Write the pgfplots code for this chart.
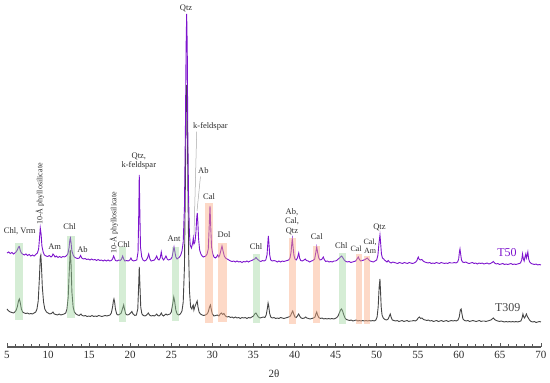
\documentclass[border=0pt]{standalone}
\usepackage{pgfplots}
\pgfplotsset{compat=1.18}
\usepackage{fontspec}
\setmainfont{Liberation Serif}
\definecolor{pur}{RGB}{125,20,205}
\definecolor{gry}{RGB}{70,70,70}
\definecolor{bandg}{RGB}{150,210,150}
\definecolor{bando}{RGB}{250,170,130}
\definecolor{txt}{RGB}{45,45,45}
\tikzset{lbl/.style={font=\fontsize{8.5}{9.5}\selectfont, text=txt, inner sep=0pt, align=center}}
\begin{document}
\begin{tikzpicture}
\path[use as bounding box] (-7pt,-36pt) rectangle (543pt,347pt);
\begin{axis}[
  at={(0,0)}, anchor=south west,
  width=534pt, height=347pt, scale only axis,
  xmin=5, xmax=70, ymin=0, ymax=347,
  axis x line*=bottom, axis y line=none,
  x axis line style={draw=gry!90, line width=1.1pt},
  xtick={5,10,...,70}, minor x tick num=4,
  tick align=inside,
  major tick length=4pt, minor tick length=2.5pt,
  tick style={draw=gry!90, line width=0.8pt},
  ytick=\empty,
  xticklabel style={font=\fontsize{11}{12}\selectfont, text=txt, yshift=-1pt},
  /pgf/number format/assume math mode=true,
  xlabel={2θ},
  xlabel style={font=\fontsize{11}{12}\selectfont, text=txt, at={(axis description cs:0.5,0)}, anchor=center, yshift=-27pt},
  clip=false,
]
% T309
\addplot[gry, line width=0.9pt] table {
x y
5.0 38
5.2 36
5.4 35
5.6 34.5
5.8 34
5.95 35
6.1 36.5
6.25 40
6.4 46
6.5 48
6.6 45
6.75 38
6.9 35
7.1 34
7.3 33.5
7.5 34
7.7 33
7.9 33.5
8.1 33
8.3 34
8.5 35
8.65 38
8.8 46
8.95 70
9.05 90
9.12 92
9.2 80
9.3 60
9.45 45
9.6 38
9.8 35
10.0 34
10.2 33
10.4 33.5
10.6 35
10.75 33
10.95 32.5
11.15 32
11.35 33
11.55 32
11.75 32.5
11.95 33
12.15 34
12.3 38
12.45 50
12.6 80
12.7 97
12.8 82
12.9 55
13.05 40
13.2 35
13.4 33
13.6 32
13.8 31.5
14.0 33
14.15 31.5
14.35 31
14.55 31.5
14.75 30.5
14.95 31
15.15 30.5
15.35 31.5
15.55 30.5
15.75 31
15.95 30.5
16.15 31.5
16.35 31
16.55 30.5
16.75 31
16.95 31.5
17.15 31
17.35 31.5
17.55 32
17.7 34
17.85 40
17.95 46
18.02 48
18.1 45
18.2 38
18.35 33
18.5 32
18.7 32.5
18.9 34
19.05 38
19.2 42
19.3 38
19.45 33
19.65 32
19.85 32.5
20.05 34
20.2 35.5
20.35 33
20.55 31.5
20.75 32
20.92 38
21.02 60
21.1 80
21.18 62
21.28 40
21.42 33
21.6 31.5
21.8 31
22.0 32
22.2 34
22.35 32
22.55 31
22.75 31.5
22.95 31
23.1 32
23.22 33
23.35 31.5
23.5 31
23.65 32
23.78 34
23.9 32
24.05 31
24.2 32
24.35 33
24.5 32
24.65 32.5
24.85 33
25.0 35
25.15 42
25.3 50
25.4 46
25.55 37
25.7 33
25.9 32
26.1 33
26.3 36
26.45 45
26.6 80
26.72 170
26.8 240
26.87 262
26.94 235
27.02 160
27.12 90
27.22 55
27.35 40
27.5 38
27.6 41
27.67 42
27.75 37
27.85 40
28.0 43
28.15 46
28.25 40
28.38 35
28.55 33
28.75 32
28.95 31.5
29.15 32
29.35 33
29.5 35
29.65 40
29.77 42
29.88 37
30.0 33
30.2 31
30.4 31.5
30.6 32
30.8 31
30.95 33
31.1 34
31.25 32.5
31.4 33.5
31.6 31
31.8 30
32.0 30.5
32.2 29.5
32.4 30
32.6 29
32.8 30
33.0 29
33.2 29.5
33.4 28.5
33.6 29.5
33.8 29
34.0 29.5
34.2 28.5
34.4 29.5
34.6 29
34.8 30
35.0 31
35.15 33
35.3 34
35.45 32
35.6 30
35.8 29
36.0 29.5
36.2 30
36.4 29.5
36.55 32
36.68 38
36.78 44
36.86 41
36.96 34
37.1 30
37.3 29
37.5 29.5
37.7 28.5
37.9 29
38.1 28.5
38.3 29.5
38.5 29
38.7 28.5
38.9 29
39.1 29.5
39.3 30
39.5 31
39.65 34
39.78 36
39.9 33
40.05 30
40.2 29.5
40.35 31
40.5 33
40.62 31
40.8 29
41.0 28.5
41.2 29
41.35 30
41.5 29
41.7 28.5
41.9 28
42.1 28.5
42.3 29
42.5 30
42.6 33
42.7 35
42.8 32
42.95 29.5
43.15 28.5
43.35 29
43.55 28
43.75 28.5
43.95 28
44.15 28.5
44.35 28
44.55 28.5
44.75 28
44.95 28.5
45.15 29.5
45.3 31
45.45 34
45.6 37
45.72 38
45.85 36
46.0 32
46.15 29
46.3 27.5
46.5 27
46.7 26.5
46.9 27
47.1 26
47.3 26.5
47.5 27
47.7 26
47.9 26.5
48.1 26
48.3 26.5
48.5 26
48.7 26.5
48.9 26
49.1 26.5
49.3 26
49.5 26.5
49.7 26
49.9 27
50.05 30
50.18 40
50.3 60
50.4 68
50.47 55
50.55 40
50.65 32
50.8 29
51.0 27.5
51.2 27
51.4 28
51.55 31
51.65 33
51.75 30
51.9 27
52.1 26.5
52.3 26
52.5 26.5
52.7 25.5
52.9 26
53.1 26.5
53.3 25.5
53.5 26
53.7 26.5
53.9 25.5
54.1 26
54.3 26
54.5 26.5
54.7 26
54.9 27
55.05 29
55.2 30
55.35 28.5
55.5 29
55.7 27.5
55.9 27
56.1 26.5
56.3 27
56.5 26
56.7 26.5
56.9 25.5
57.1 26
57.3 26.5
57.5 25.5
57.7 26
57.9 26.5
58.1 25.5
58.3 26
58.5 26.5
58.7 25.5
58.9 26
59.1 26.5
59.3 26
59.5 26.5
59.7 26
59.9 27
60.05 30
60.18 37
60.28 38
60.38 33
60.5 28
60.7 26.5
60.9 26
61.1 26.5
61.3 25.5
61.5 26
61.7 26.5
61.9 26
62.1 25.5
62.3 26
62.5 26.5
62.7 25.5
62.9 26
63.1 26
63.3 25.5
63.5 26
63.7 26.5
63.9 27
64.05 28
64.2 29
64.35 27.5
64.55 26.5
64.75 26
64.95 25.5
65.15 26
65.35 25.5
65.55 25
65.75 25.5
65.95 25
66.15 25.5
66.35 25
66.55 25.5
66.75 25
66.95 25.5
67.15 25
67.35 25.5
67.55 26
67.7 29
67.8 33
67.9 30
68.0 29
68.12 31
68.22 33
68.32 31
68.45 29
68.6 27
68.8 25.5
69.0 25
69.2 25.5
69.4 24.5
69.6 25
69.8 25.5
70.0 25
};
% T50
\addplot[pur, line width=0.9pt] table {
x y
5.0 94
5.2 95
5.4 93.5
5.6 94.5
5.8 93
5.95 94
6.1 95
6.25 97
6.4 100
6.5 100.5
6.6 97
6.75 94
6.9 93
7.1 92
7.3 93
7.5 91.5
7.7 92.5
7.9 91
8.1 92
8.3 91
8.5 92.5
8.7 94
8.85 98
8.95 108
9.05 119
9.15 113
9.25 101
9.4 95
9.55 92
9.75 91
9.95 90.5
10.15 91.5
10.35 90
10.5 91
10.6 93
10.7 92
10.85 90
11.0 91
11.2 89.5
11.4 90.5
11.6 89.5
11.8 90.5
12.0 90
12.2 91
12.4 93
12.55 99
12.65 107
12.72 109
12.8 104
12.9 96
13.05 92
13.2 90
13.4 89
13.6 88.5
13.8 89
13.95 91.5
14.1 89
14.3 88
14.5 88.5
14.7 87.5
14.9 88
15.1 87
15.3 88
15.5 87
15.7 87.5
15.9 86.5
16.1 87.5
16.3 86.5
16.5 87
16.7 86
16.9 87
17.1 86
17.3 87
17.5 86
17.7 86.5
17.85 88
17.98 91
18.08 89
18.2 86.5
18.4 86
18.6 87
18.8 86.5
18.95 88
19.08 91
19.2 88
19.35 86
19.55 86.5
19.75 86
19.95 87
20.09 89
20.2 87
20.4 86
20.6 86.5
20.8 87
20.95 95
21.03 130
21.1 172
21.17 135
21.25 100
21.4 90
21.55 87
21.75 86
21.95 87
22.1 89
22.25 93
22.4 88
22.55 86
22.75 86.5
22.95 87
23.1 89
23.22 91
23.35 88
23.5 87
23.65 89
23.78 95
23.9 89
24.05 87
24.2 88.5
24.35 91
24.5 88
24.65 87
24.8 87.5
24.95 88
25.1 90
25.25 97
25.33 100
25.42 96
25.55 90
25.7 88
25.85 89
26.0 90
26.15 92
26.3 96
26.45 105
26.6 140
26.72 220
26.8 300
26.87 333
26.94 300
27.0 220
27.1 150
27.2 115
27.3 102
27.45 99
27.6 104
27.68 109
27.76 103
27.88 105
28.0 115
28.1 130
28.16 134
28.23 125
28.32 108
28.45 97
28.6 93
28.75 91
28.9 90
29.05 90.5
29.2 91
29.35 93
29.5 98
29.6 118
29.71 141
29.8 120
29.9 100
30.05 93
30.2 90
30.35 89
30.5 90
30.65 92
30.78 90
30.9 92
31.05 97
31.17 101
31.3 96
31.45 91
31.6 89
31.8 88
32.0 87
32.2 86
32.4 85.5
32.6 86
32.8 85
33.0 86
33.2 85
33.4 85.5
33.6 84.5
33.8 85.5
34.0 85
34.2 86
34.4 85
34.6 86
34.8 86.5
35.0 87.5
35.15 88
35.31 89.5
35.45 88
35.6 87
35.75 86
35.9 85.5
36.1 86.5
36.3 86
36.5 87
36.65 92
36.75 104
36.81 111
36.88 104
36.98 92
37.1 87
37.3 86
37.5 86.5
37.7 86
37.9 85
38.1 86
38.3 85
38.5 86
38.7 85.5
38.9 86
39.1 86.5
39.3 87
39.45 89
39.58 95
39.67 104
39.73 108
39.8 102
39.92 92
40.05 88
40.2 87
40.35 89
40.51 94
40.62 89
40.75 86.5
40.95 86
41.15 87
41.3 88
41.45 86.5
41.65 86
41.85 85
42.05 86
42.25 86.5
42.45 88
42.6 95
42.7 100
42.8 95
42.95 89
43.1 87
43.3 87.5
43.5 90
43.65 87
43.8 85.5
44.0 86
44.2 85
44.4 85.5
44.6 85
44.8 86
45.0 86
45.2 87
45.4 88.5
45.6 90
45.74 91
45.9 89
46.05 87
46.25 85.5
46.45 85
46.65 85.5
46.85 84.5
47.05 85
47.25 85.5
47.45 86
47.6 88
47.76 90
47.9 87.5
48.05 86
48.25 86.5
48.45 87
48.6 87.5
48.75 88.5
48.86 89
49.0 87.5
49.2 86
49.4 85.5
49.6 85
49.8 86
50.0 87
50.15 92
50.28 104
50.4 112
50.48 104
50.58 93
50.7 89
50.85 88
50.95 87
51.1 86
51.25 85
51.41 86.5
51.55 85
51.75 84
51.95 85
52.15 84.5
52.35 84
52.55 83.5
52.75 84.5
52.95 84
53.15 83.5
53.35 84.5
53.55 84
53.75 83.5
53.95 84.5
54.15 84
54.35 83.5
54.55 84
54.75 85
54.9 86.5
55.0 89
55.07 90
55.15 88
55.3 87
55.5 87.5
55.65 86
55.85 85
56.05 84.5
56.25 84
56.45 84.5
56.65 83.5
56.85 84
57.05 83.5
57.25 84.5
57.45 84
57.65 83.5
57.85 84.5
58.05 84
58.25 83.5
58.45 84
58.65 83.5
58.85 84.5
59.05 84
59.25 84
59.45 84.5
59.65 84
59.85 85
59.98 88
60.07 95
60.14 98
60.22 93
60.32 87
60.45 85
60.65 84.5
60.85 85
61.05 84
61.25 83.5
61.45 84
61.65 84.5
61.85 83.5
62.05 84
62.25 83
62.45 84
62.65 83.5
62.85 84
63.05 83
63.25 83.5
63.45 84
63.65 83
63.85 83.5
64.05 84.5
64.2 85.5
64.35 84
64.55 83
64.75 83.5
64.95 82.5
65.15 83
65.35 83.5
65.55 82.5
65.75 83
65.95 82.5
66.15 83
66.35 83.5
66.55 82.5
66.75 83
66.95 82.5
67.15 83
67.35 83.5
67.5 84
67.65 87
67.75 93
67.85 88
67.95 86
68.05 90
68.15 93
68.22 89
68.3 91
68.4 95
68.5 88
68.62 85
68.8 83.5
69.0 83
69.2 82.5
69.4 83
69.6 82
69.8 82.5
70.0 82
};
% bands
\addplot[draw=none, fill=bandg, fill opacity=0.4] coordinates {(5.97,27)(6.91,27)(6.91,104)(5.97,104)} -- cycle;
\addplot[draw=none, fill=bandg, fill opacity=0.4] coordinates {(12.27,29)(13.28,29)(13.28,111)(12.27,111)} -- cycle;
\addplot[draw=none, fill=bandg, fill opacity=0.4] coordinates {(18.67,25)(19.49,25)(19.49,100)(18.67,100)} -- cycle;
\addplot[draw=none, fill=bandg, fill opacity=0.4] coordinates {(25.05,26)(25.94,26)(25.94,100)(25.05,100)} -- cycle;
\addplot[draw=none, fill=bando, fill opacity=0.45] coordinates {(29.10,24)(30.11,24)(30.11,144)(29.10,144)} -- cycle;
\addplot[draw=none, fill=bando, fill opacity=0.45] coordinates {(30.72,25)(31.82,25)(31.82,104)(30.72,104)} -- cycle;
\addplot[draw=none, fill=bandg, fill opacity=0.4] coordinates {(34.98,24)(35.80,24)(35.80,93)(34.98,93)} -- cycle;
\addplot[draw=none, fill=bando, fill opacity=0.45] coordinates {(39.36,23)(40.18,23)(40.18,109)(39.36,109)} -- cycle;
\addplot[draw=none, fill=bando, fill opacity=0.45] coordinates {(42.29,24)(43.10,24)(43.10,101)(42.29,101)} -- cycle;
\addplot[draw=none, fill=bandg, fill opacity=0.4] coordinates {(45.45,23)(46.27,23)(46.27,94)(45.45,94)} -- cycle;
\addplot[draw=none, fill=bando, fill opacity=0.45] coordinates {(47.45,23)(48.18,23)(48.18,93)(47.45,93)} -- cycle;
\addplot[draw=none, fill=bando, fill opacity=0.45] coordinates {(48.49,23)(49.19,23)(49.19,91)(48.49,91)} -- cycle;
% leader lines
\draw[gray!70, line width=0.5pt] (axis cs:28.09,215.3) -- (axis cs:27.76,111);
\draw[gray!70, line width=0.5pt] (axis cs:28.55,170.5) -- (axis cs:28.13,136);
% labels
\node[lbl] at (axis cs:26.79,339) {Qtz};
\node[lbl, anchor=west] at (axis cs:27.64,221) {k-feldspar};
\node[lbl, anchor=west] at (axis cs:28.25,176) {Ab};
\node[lbl] at (axis cs:29.59,150) {Cal};
\node[lbl] at (axis cs:31.42,112) {Dol};
\node[lbl] at (axis cs:35.31,100) {Chl};
\node[lbl] at (axis cs:39.69,125.3) {Ab,\\Cal,\\Qtz};
\node[lbl] at (axis cs:42.70,110) {Cal};
\node[lbl] at (axis cs:45.69,101) {Chl};
\node[lbl, font=\fontsize{8}{9}\selectfont] at (axis cs:47.5,98) {Cal};
\node[lbl, font=\fontsize{8}{9}\selectfont] at (axis cs:49.2,100.7) {Cal,\\Am};
\node[lbl] at (axis cs:50.34,120) {Qtz};
\node[lbl] at (axis cs:6.55,115.3) {Chl, Vrm};
\node[lbl, rotate=90, font=\fontsize{8}{9}\selectfont] at (axis cs:9.02,153) {10-Å phyllosilicate};
\node[lbl] at (axis cs:10.81,100.3) {Am};
\node[lbl] at (axis cs:12.61,120.3) {Chl};
\node[lbl] at (axis cs:14.19,97.7) {Ab};
\node[lbl, rotate=90, font=\fontsize{8}{9}\selectfont] at (axis cs:18.02,124.5) {10-Å phyllosilicate};
\node[lbl] at (axis cs:19.21,102) {Chl};
\node[lbl] at (axis cs:21.05,186) {Qtz,\\k-feldspar};
\node[lbl] at (axis cs:25.33,108.7) {Ant};
\node[font=\fontsize{12}{13}\selectfont, text=pur, inner sep=0pt] at (axis cs:65.86,94) {T50};
\node[font=\fontsize{12}{13}\selectfont, text=gry, inner sep=0pt] at (axis cs:65.96,39) {T309};
\end{axis}
\end{tikzpicture}
\end{document}
